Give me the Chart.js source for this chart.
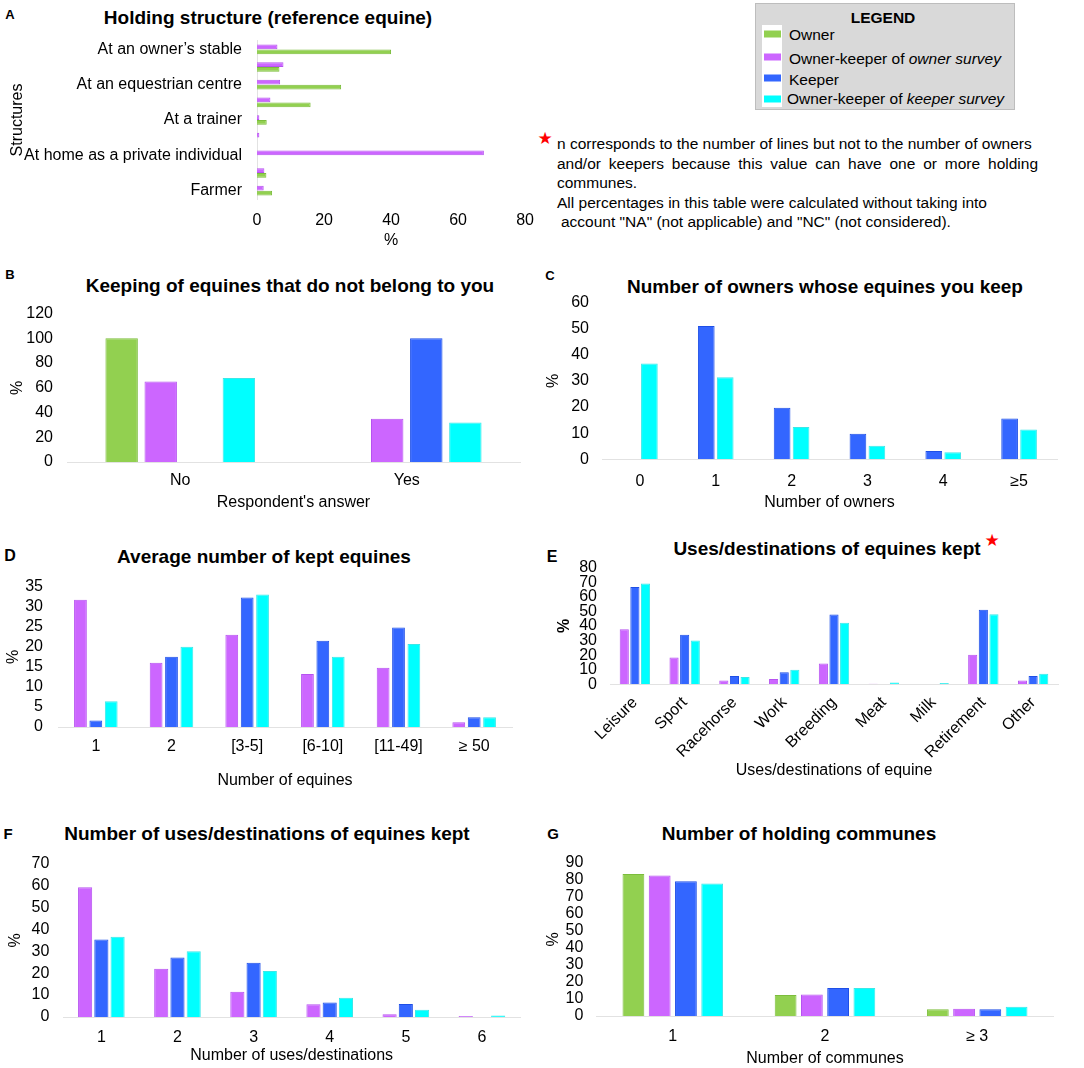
<!DOCTYPE html>
<html>
<head>
<meta charset="utf-8">
<script src="https://cdn.jsdelivr.net/npm/chart.js@4.4.1/dist/chart.umd.min.js"></script>
<style>
  body { margin: 0; width: 1084px; height: 1068px; position: relative; overflow: hidden; background: #fff;
         font-family: "Liberation Sans", Arial, Helvetica, sans-serif; color: #000; }
  .panel { position: absolute; }
  .t { position: absolute; transform: translate(-50%, -50%); white-space: nowrap; line-height: 1; }
  .l { position: absolute; transform: translateY(-50%); white-space: nowrap; line-height: 1; }
  .b { font-weight: bold; }
  .title { font-size: 19px; font-weight: bold; }
  .star { color: #ff0000; font-family: "DejaVu Sans", sans-serif; font-size: 17px; }
  .legend { position: absolute; left: 755px; top: 3px; width: 258px; height: 105px; background: #d9d9d9; border: 1px solid #bdbdbd; }
  .strip { position: absolute; left: 762px; top: 25px; width: 20px; height: 82px; background: #fff; }
  .sw { position: absolute; left: 764px; width: 17px; height: 7px; transform: translateY(-50%); }
  .note { font-size: 15.5px; }
</style>
</head>
<body>

<!-- panel letters and titles -->
<div class="t b" style="left:10px;top:14px;font-size:13px">A</div>
<div class="t title" style="left:268px;top:17px">Holding structure (reference equine)</div>
<div class="t b" style="left:10px;top:274px;font-size:13px">B</div>
<div class="t title" style="left:290px;top:285px">Keeping of equines that do not belong to you</div>
<div class="t b" style="left:550px;top:275px;font-size:13px">C</div>
<div class="t title" style="left:825px;top:286px">Number of owners whose equines you keep</div>
<div class="t b" style="left:10px;top:556px;font-size:16px">D</div>
<div class="t title" style="left:264px;top:556px">Average number of kept equines</div>
<div class="t b" style="left:552px;top:557px;font-size:16px">E</div>
<div class="t title" style="left:827px;top:548px">Uses/destinations of equines kept</div>
<div class="t star" style="left:992px;top:540px">★</div>
<div class="t b" style="left:8px;top:833px;font-size:15px">F</div>
<div class="t title" style="left:267px;top:833px">Number of uses/destinations of equines kept</div>
<div class="t b" style="left:553px;top:833px;font-size:15px">G</div>
<div class="t title" style="left:799px;top:833px">Number of holding communes</div>

<!-- legend -->
<div class="legend"></div>
<div class="strip"></div>
<div class="t b" style="left:883px;top:18px;font-size:15.5px">LEGEND</div>
<div class="sw" style="top:34px;background:#92d050"></div>
<div class="sw" style="top:57px;background:#cc66ff"></div>
<div class="sw" style="top:78px;background:#3366ff"></div>
<div class="sw" style="top:99px;background:#00ffff"></div>
<div class="l" style="left:789px;top:35px;font-size:15.5px">Owner</div>
<div class="l" style="left:789px;top:59px;font-size:15.5px">Owner-keeper of <i>owner survey</i></div>
<div class="l" style="left:789px;top:80px;font-size:15.5px">Keeper</div>
<div class="l" style="left:787px;top:99px;font-size:15.5px">Owner-keeper of <i>keeper survey</i></div>

<!-- note -->
<div class="t star" style="left:545px;top:138px">★</div>
<div class="l note" style="left:557px;top:144px">n corresponds to the number of lines but not to the number of owners</div>
<div class="l note" style="left:557px;top:164px;width:481px;text-align:justify;text-align-last:justify">and/or keepers because this value can have one or more holding</div>
<div class="l note" style="left:557px;top:183px">communes.</div>
<div class="l note" style="left:557px;top:203px">All percentages in this table were calculated without taking into</div>
<div class="l note" style="left:561px;top:222px">account "NA" (not applicable) and "NC" (not considered).</div>

<!-- charts -->
<div class="panel" style="left:0;top:0;width:545px;height:250px"><canvas id="chartA"></canvas></div>
<div class="panel" style="left:0;top:290px;width:530px;height:225px"><canvas id="chartB"></canvas></div>
<div class="panel" style="left:540px;top:280px;width:544px;height:235px"><canvas id="chartC"></canvas></div>
<div class="panel" style="left:0;top:562px;width:540px;height:230px"><canvas id="chartD"></canvas></div>
<div class="panel" style="left:540px;top:545px;width:544px;height:245px"><canvas id="chartE"></canvas></div>
<div class="panel" style="left:0;top:840px;width:540px;height:228px"><canvas id="chartF"></canvas></div>
<div class="panel" style="left:540px;top:840px;width:544px;height:228px"><canvas id="chartG"></canvas></div>

<script>
// A - holding structure (reference equine)
const structureLabels = ['At an owner\u2019s stable', '', 'At an equestrian centre', '', 'At a trainer', '',
                         'At home as a private individual', '', 'Farmer'];
const structureOwnerKeeperO = [6.1, 7.9, 6.9, 4.0, 0.7, 0.7, 67.7, 2.2, 2.0];
const structureOwner = [40.0, 6.7, 25.1, 16.0, 2.9, null, null, 2.8, 4.5];

// B - keeping of equines that do not belong to you
const answerLabels = ['No', 'Yes'];
const answerOwner = [100, null];
const answerOwnerKeeperO = [65, 35];
const answerKeeper = [null, 100];
const answerOwnerKeeperK = [68, 32];

// C - number of owners whose equines you keep
const ownerLabels = ['0', '1', '2', '3', '4', '\u22655'];
const ownerKeeper = [null, 51.0, 19.7, 9.8, 3.2, 15.6];
const ownerOwnerKeeperK = [36.7, 31.4, 12.4, 5.2, 2.7, 11.4];

// D - average number of kept equines
const herdLabels = ['1', '2', '[3-5]', '[6-10]', '[11-49]', '\u2265 50'];
const herdOwnerKeeperO = [31.7, 16.0, 23.0, 13.2, 14.8, 1.2];
const herdKeeper = [1.6, 17.5, 32.3, 21.5, 24.8, 2.4];
const herdOwnerKeeperK = [6.4, 20.0, 33.0, 17.5, 20.7, 2.4];

// E - uses/destinations of equines kept
const useLabels = ['Leisure', 'Sport', 'Racehorse', 'Work', 'Breeding', 'Meat', 'Milk', 'Retirement', 'Other'];
const useOwnerKeeperO = [37.8, 18.3, 2.6, 3.7, 14.3, 0.4, null, 20.2, 2.6];
const useKeeper = [66.7, 33.9, 5.7, 8.3, 47.8, null, null, 51.1, 5.7];
const useOwnerKeeperK = [69.1, 30.0, 5.0, 10.0, 42.2, 1.3, 0.9, 48.0, 7.2];

// F - number of uses/destinations
const useCountLabels = ['1', '2', '3', '4', '5', '6'];
const useCountOwnerKeeperO = [59.2, 22.0, 11.5, 5.8, 1.3, 0.4];
const useCountKeeper = [35.4, 27.2, 24.8, 6.6, 5.9, null];
const useCountOwnerKeeperK = [36.6, 30.0, 21.0, 8.8, 3.3, 0.7];

// G - number of holding communes
const communeLabels = ['1', '2', '\u2265 3'];
const communeOwner = [83.6, 12.3, 3.9];
const communeOwnerKeeperO = [82.7, 12.7, 4.3];
const communeKeeper = [79.3, 16.4, 3.9];
const communeOwnerKeeperK = [78.0, 16.4, 5.4];

const seriesNames = {
  owner: 'Owner',
  okOwner: 'Owner-keeper of owner survey',
  keeper: 'Keeper',
  okKeeper: 'Owner-keeper of keeper survey'
};
const palette = {
  owner: ['#92d050', '#7cbd3c'],
  okOwner: ['#cc66ff', '#b653f0'],
  keeper: ['#3366ff', '#1f4fe6'],
  okKeeper: ['#00ffff', '#3ae8e8']
};

Chart.defaults.font.family = '"Liberation Sans", Arial, Helvetica, sans-serif';
Chart.defaults.font.size = 16;
Chart.defaults.color = '#000';
Chart.defaults.animation = false;

const baseLine = '#e2e2e2';
const noGrid = {display: false, drawTicks: false};

function series(key, data, cat, bar) {
  return {
    label: seriesNames[key], data,
    backgroundColor: palette[key][0], borderColor: palette[key][1], borderWidth: 1,
    categoryPercentage: cat, barPercentage: bar
  };
}

function fitWidth(w) { return scale => { scale.width = w; }; }
function fitHeight(h) { return scale => { scale.height = h; }; }

function columnChart(id, labels, keys, values, o) {
  const datasets = keys.map((k, i) => series(k, values[i], o.cat, o.bar));
  return new Chart(document.getElementById(id), {
    type: 'bar',
    data: {labels, datasets},
    options: {
      responsive: true,
      maintainAspectRatio: false,
      layout: {padding: {top: o.top, right: o.right, bottom: 0, left: 0}},
      plugins: {legend: {display: false}, tooltip: {enabled: false}},
      scales: {
        x: {
          grid: noGrid,
          border: {display: true, color: baseLine},
          ticks: {padding: o.xPad, autoSkip: false, maxRotation: o.rot || 0, minRotation: o.rot || 0},
          title: {display: true, text: o.xTitle, padding: {top: 0, bottom: o.xTitleB}},
          afterFit: fitHeight(o.xH)
        },
        y: {
          min: 0, max: o.max,
          grid: noGrid,
          border: {display: false},
          ticks: {stepSize: o.step, padding: o.yPad, autoSkip: false},
          title: {display: true, text: '%', padding: {top: o.yTitleT, bottom: 0},
                  font: {weight: o.pctBold ? 'bold' : 'normal'}},
          afterFit: fitWidth(o.yW)
        }
      }
    }
  });
}

// A: horizontal bars
new Chart(document.getElementById('chartA'), {
  type: 'bar',
  data: {
    labels: structureLabels,
    datasets: [
      series('okOwner', structureOwnerKeeperO, 0.56, 0.95),
      series('owner', structureOwner, 0.56, 0.95)
    ]
  },
  options: {
    indexAxis: 'y',
    responsive: true,
    maintainAspectRatio: false,
    layout: {padding: {top: 40.5, right: 18, bottom: 0, left: 0}},
    plugins: {legend: {display: false}, tooltip: {enabled: false}},
    scales: {
      y: {
        grid: noGrid,
        border: {display: true, color: baseLine},
        ticks: {padding: 15, autoSkip: false},
        title: {display: true, text: 'Structures', padding: {top: 8.4, bottom: 0}},
        afterFit: fitWidth(257)
      },
      x: {
        min: 0, max: 80,
        grid: noGrid,
        border: {display: false},
        ticks: {stepSize: 20, padding: 11},
        title: {display: true, text: '%', padding: {top: 0, bottom: 0}},
        afterFit: fitHeight(50.5)
      }
    }
  }
});

columnChart('chartB', answerLabels, ['owner', 'okOwner', 'keeper', 'okKeeper'],
  [answerOwner, answerOwnerKeeperO, answerKeeper, answerOwnerKeeperK],
  {cat: 0.69, bar: 0.83, top: 12, right: 10, max: 120, step: 20, yW: 67, yPad: 14, yTitleT: 8.4,
   xH: 53, xPad: 9.4, xTitle: "Respondent's answer", xTitleB: 2.4});

columnChart('chartC', ownerLabels, ['keeper', 'okKeeper'],
  [ownerKeeper, ownerOwnerKeeperK],
  {cat: 0.5, bar: 0.88, top: 16.7, right: 27, max: 60, step: 10, yW: 62, yPad: 13, yTitleT: 3.7,
   xH: 55.7, xPad: 12.8, xTitle: 'Number of owners', xTitleB: 2.7});

columnChart('chartD', herdLabels, ['okOwner', 'keeper', 'okKeeper'],
  [herdOwnerKeeperO, herdKeeper, herdOwnerKeeperK],
  {cat: 0.61, bar: 0.83, top: 15.3, right: 28, max: 35, step: 5, yW: 58, yPad: 15, yTitleT: 4.4,
   xH: 65, xPad: 10, xTitle: 'Number of equines', xTitleB: 1.4});

columnChart('chartE', useLabels, ['okOwner', 'keeper', 'okKeeper'],
  [useOwnerKeeperO, useKeeper, useOwnerKeeperK],
  {cat: 0.64, bar: 0.86, top: 16.7, right: 26, max: 80, step: 10, yW: 70, yPad: 13, yTitleT: 15.4,
   pctBold: true, xH: 105.7, xPad: 9, rot: 45, xTitle: 'Uses/destinations of equine', xTitleB: 9.4});

columnChart('chartF', useCountLabels, ['okOwner', 'keeper', 'okKeeper'],
  [useCountOwnerKeeperO, useCountKeeper, useCountOwnerKeeperK],
  {cat: 0.64, bar: 0.87, top: 15, right: 20, max: 70, step: 10, yW: 63.3, yPad: 14, yTitleT: 6.4,
   xH: 51, xPad: 10.7, xTitle: 'Number of uses/destinations', xTitleB: 2.4});

columnChart('chartG', communeLabels, ['owner', 'okOwner', 'keeper', 'okKeeper'],
  [communeOwner, communeOwnerKeeperO, communeKeeper, communeOwnerKeeperK],
  {cat: 0.69, bar: 0.83, top: 15, right: 30.7, max: 90, step: 10, yW: 56.7, yPad: 13.4, yTitleT: 3.7,
   xH: 52, xPad: 11.1, xTitle: 'Number of communes', xTitleB: 0.1});
</script>
</body>
</html>
